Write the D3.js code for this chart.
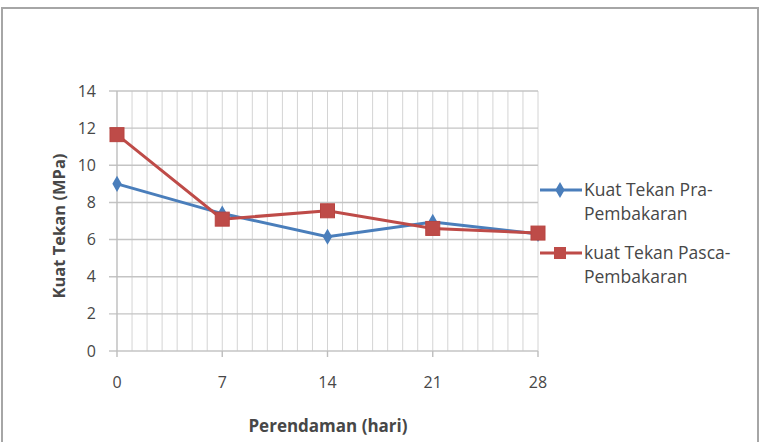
<!DOCTYPE html>
<html>
<head>
<meta charset="utf-8">
<script src="https://cdn.jsdelivr.net/npm/d3@7"></script>
<style>
  body { margin: 0; background: #fff; }
  text { font-family: "Open Sans", "DejaVu Sans", sans-serif; fill: #474747; }
</style>
</head>
<body>
<svg id="chart" width="764" height="442"></svg>
<script>
// data
const days = [0, 7, 14, 21, 28];
const praValues = [9.0, 7.4, 6.15, 6.95, 6.3];
const pascaValues = [11.65, 7.1, 7.55, 6.6, 6.35];
const seriesNames = [["Kuat Tekan Pra-", "Pembakaran"], ["kuat Tekan Pasca-", "Pembakaran"]];
const yTicks = [0, 2, 4, 6, 8, 10, 12, 14];

const svg = d3.select("#chart");

// outer frame
svg.append("rect")
  .attr("x", 2).attr("y", 8).attr("width", 756).attr("height", 440)
  .attr("fill", "none").attr("stroke", "#a6a6a6").attr("stroke-width", 2);

const x = d3.scaleLinear().domain([0, 28]).range([117, 538]);
const y = d3.scaleLinear().domain([0, 14]).range([351, 91]);

// minor vertical gridlines, one per day
const g = svg.append("g");
g.selectAll(".vgrid").data(d3.range(1, 29)).join("line")
  .attr("x1", d => x(d)).attr("x2", d => x(d))
  .attr("y1", y(14)).attr("y2", y(0))
  .attr("stroke", "#d4d4d4").attr("stroke-width", 1);

// horizontal gridlines with outside ticks
g.selectAll(".hgrid").data(yTicks).join("line")
  .attr("x1", x(0) - 8).attr("x2", x(28))
  .attr("y1", d => y(d)).attr("y2", d => y(d))
  .attr("stroke", "#c4c4c4").attr("stroke-width", 1.4);

// y axis line
g.append("line").attr("x1", x(0)).attr("x2", x(0)).attr("y1", y(14)).attr("y2", y(0))
  .attr("stroke", "#bdbdbd").attr("stroke-width", 1.4);

// x tick marks
g.selectAll(".xtick").data(days).join("line")
  .attr("x1", d => x(d)).attr("x2", d => x(d))
  .attr("y1", y(0)).attr("y2", y(0) + 6)
  .attr("stroke", "#bdbdbd").attr("stroke-width", 1.4);

// tick labels
svg.selectAll(".ylab").data(yTicks).join("text")
  .attr("x", 96).attr("y", d => y(d)).attr("dy", "0.35em")
  .attr("text-anchor", "end").attr("font-size", 16).text(d => d);

svg.selectAll(".xlab").data(days).join("text")
  .attr("x", d => x(d)).attr("y", 382).attr("dy", "0.35em")
  .attr("text-anchor", "middle").attr("font-size", 16).text(d => d);

// axis titles
svg.append("text")
  .attr("transform", "translate(59,226) rotate(-90)")
  .attr("text-anchor", "middle").attr("dy", "0.35em")
  .attr("font-size", 16.5).attr("font-weight", "bold").text("Kuat Tekan (MPa)");

svg.append("text")
  .attr("x", 328).attr("y", 426).attr("dy", "0.35em")
  .attr("text-anchor", "middle").attr("font-size", 17).attr("font-weight", "bold")
  .text("Perendaman (hari)");

// series
const line = d3.line().x(d => x(d[0])).y(d => y(d[1]));
const blue = "#4a7ebb", red = "#be4b48";

const praPts = days.map((d, i) => [d, praValues[i]]);
const pascaPts = days.map((d, i) => [d, pascaValues[i]]);

svg.append("path").datum(praPts).attr("d", line)
  .attr("fill", "none").attr("stroke", blue).attr("stroke-width", 3);
svg.append("path").datum(pascaPts).attr("d", line)
  .attr("fill", "none").attr("stroke", red).attr("stroke-width", 3);

const diamond = d3.symbol().type(d3.symbolDiamond).size(75);

svg.selectAll(".pra").data(praPts).join("path")
  .attr("d", diamond)
  .attr("transform", d => `translate(${x(d[0])},${y(d[1])})`)
  .attr("fill", blue);

svg.selectAll(".pasca").data(pascaPts).join("rect")
  .attr("x", d => x(d[0]) - 7).attr("y", d => y(d[1]) - 7)
  .attr("width", 14).attr("height", 14)
  .attr("fill", red).attr("stroke", "#b84440").attr("stroke-width", 1);

// legend
const legend = svg.append("g");
const legendY = [190, 253];
[blue, red].forEach((c, i) => {
  legend.append("line").attr("x1", 540).attr("x2", 582)
    .attr("y1", legendY[i]).attr("y2", legendY[i])
    .attr("stroke", c).attr("stroke-width", 3);
  if (i === 0) {
    legend.append("path").attr("d", diamond)
      .attr("transform", `translate(560,${legendY[i]})`).attr("fill", c);
  } else {
    legend.append("rect").attr("x", 554).attr("y", legendY[i] - 6)
      .attr("width", 12).attr("height", 12).attr("fill", c);
  }
  seriesNames[i].forEach((t, j) => {
    legend.append("text").attr("x", 584).attr("y", legendY[i] + j * 24)
      .attr("dy", "0.35em").attr("font-size", 17.5).text(t);
  });
});
</script>
</body>
</html>
